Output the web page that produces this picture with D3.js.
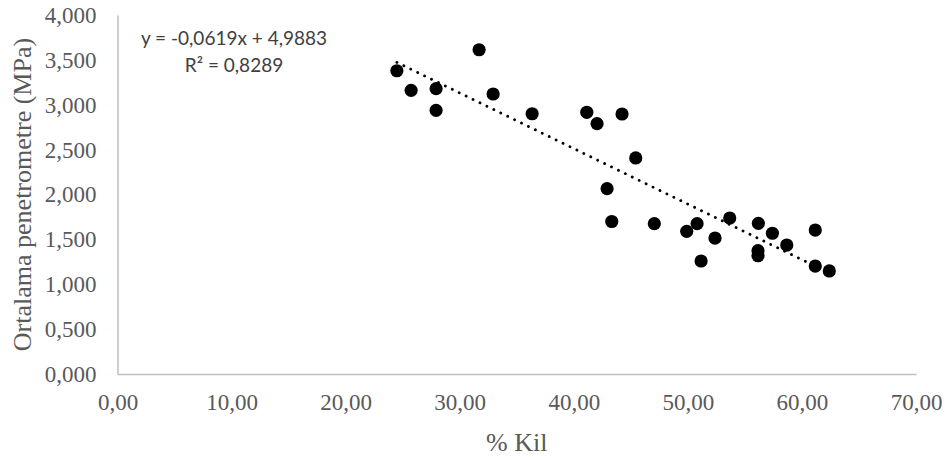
<!DOCTYPE html>
<html>
<head>
<meta charset="utf-8">
<script src="https://cdn.jsdelivr.net/npm/d3@7"></script>
<style>
  html, body { margin: 0; padding: 0; background: #fff; }
  svg { display: block; }
</style>
</head>
<body>
<svg id="chart" width="951" height="457"></svg>
<script>
// Data
const kil = [24.49, 25.74, 27.93, 27.93, 31.70, 32.93, 36.35, 41.14, 42.04, 44.23,
             45.43, 42.92, 43.33, 47.06, 49.90, 50.81, 52.38, 51.16, 53.67, 56.18,
             57.41, 56.15, 56.15, 58.67, 61.17, 61.17, 62.40];
const penetrometre = [3.379, 3.161, 3.179, 2.938, 3.613, 3.120, 2.900, 2.916, 2.789, 2.897,
                      2.407, 2.065, 1.699, 1.675, 1.590, 1.675, 1.515, 1.259, 1.738, 1.679,
                      1.568, 1.374, 1.318, 1.437, 1.604, 1.203, 1.148];
const xTicks = [0, 10, 20, 30, 40, 50, 60, 70];
const yTicks = [0, 0.5, 1, 1.5, 2, 2.5, 3, 3.5, 4];
const trendSlope = -0.0619;
const trendIntercept = 4.9883;
const equationLines = ["y = -0,0619x + 4,9883", "R² = 0,8289"];
const xTitle = "% Kil";
const yTitle = "Ortalama penetrometre (MPa)";

(function () {
const svg = d3.select("#chart");
const mLeft = 117.5, mRight = 916, mTop = 15, mBottom = 374;

const x = d3.scaleLinear().domain([0, 70]).range([mLeft, mRight]);
const y = d3.scaleLinear().domain([0, 4]).range([mBottom, mTop]);

const fmtX = v => d3.format(".2f")(v).replace(".", ",");
const fmtY = v => d3.format(".3f")(v).replace(".", ",");

const tickColor = "#595959";
const axisColor = "#bfbfbf";

// X axis
const gx = svg.append("g")
  .attr("transform", `translate(0,${mBottom})`)
  .call(d3.axisBottom(x).tickValues(xTicks).tickFormat(fmtX).tickSize(0).tickPadding(20));
gx.select(".domain").attr("stroke", axisColor).attr("stroke-width", 1.5);
gx.selectAll("text")
  .attr("fill", tickColor)
  .attr("font-family", "'Liberation Serif', 'Times New Roman', serif")
  .attr("font-size", "23px");

// Y axis
const gy = svg.append("g")
  .attr("transform", `translate(${mLeft},0)`)
  .call(d3.axisLeft(y).tickValues(yTicks).tickFormat(fmtY).tickSize(0).tickPadding(21));
gy.select(".domain").attr("stroke", axisColor).attr("stroke-width", 1.5);
gy.selectAll("text")
  .attr("fill", tickColor)
  .attr("font-family", "'Liberation Serif', 'Times New Roman', serif")
  .attr("font-size", "23px");

// Axis titles
svg.append("text")
  .attr("x", (mLeft + mRight) / 2)
  .attr("y", 451)
  .attr("text-anchor", "middle")
  .attr("fill", tickColor)
  .attr("font-family", "'Liberation Serif', 'Times New Roman', serif")
  .attr("font-size", "26px")
  .text(xTitle);

svg.append("text")
  .attr("transform", `translate(31,${(mTop + mBottom) / 2}) rotate(-90)`)
  .attr("text-anchor", "middle")
  .attr("fill", tickColor)
  .attr("font-family", "'Liberation Serif', 'Times New Roman', serif")
  .attr("font-size", "26px")
  .text(yTitle);

// Trendline (dotted)
const xMin = d3.min(kil), xMax = d3.max(kil);
const trend = [xMin, xMax].map(v => [v, trendSlope * v + trendIntercept]);
svg.append("path")
  .datum(trend)
  .attr("d", d3.line().x(d => x(d[0])).y(d => y(d[1])))
  .attr("fill", "none")
  .attr("stroke", "#000")
  .attr("stroke-width", 2.8)
  .attr("stroke-linecap", "round")
  .attr("stroke-dasharray", "0.1 7.6");

// Points
svg.append("g")
  .selectAll("circle")
  .data(kil.map((k, i) => [k, penetrometre[i]]))
  .join("circle")
  .attr("cx", d => x(d[0]))
  .attr("cy", d => y(d[1]))
  .attr("r", 6.6)
  .attr("fill", "#000");

// Equation label
const eq = svg.append("text")
  .attr("fill", "#404040")
  .attr("font-family", "Lato, 'Noto Sans', sans-serif")
  .attr("font-size", "19px")
  .attr("text-anchor", "middle");
eq.selectAll("tspan")
  .data(equationLines)
  .join("tspan")
  .attr("x", 234)
  .attr("y", (d, i) => 45 + i * 27)
  .text(d => d);
})();
</script>
</body>
</html>
